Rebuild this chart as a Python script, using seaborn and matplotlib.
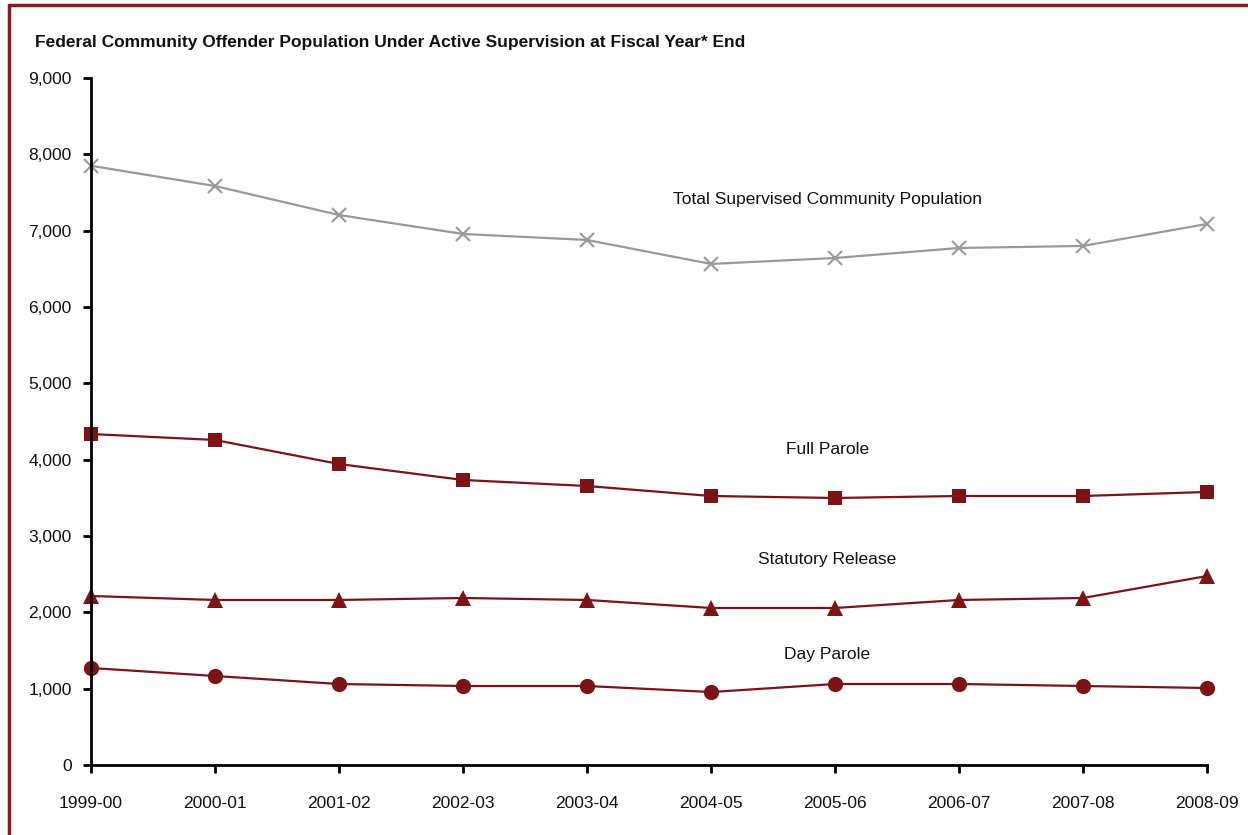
import matplotlib
matplotlib.use("Agg")
import matplotlib.pyplot as plt
from matplotlib.lines import Line2D
import seaborn as sns
import pandas as pd

years = ["1999-00", "2000-01", "2001-02", "2002-03", "2003-04",
         "2004-05", "2005-06", "2006-07", "2007-08", "2008-09"]
total = [7850, 7585, 7205, 6957, 6878, 6564, 6642, 6773, 6800, 7088]
full_parole = [4336, 4258, 3943, 3734, 3655, 3524, 3498, 3524, 3524, 3577]
statutory = [2214, 2162, 2162, 2188, 2162, 2057, 2057, 2162, 2188, 2476]
day_parole = [1271, 1166, 1061, 1035, 1035, 956, 1061, 1061, 1035, 1009]
series_names = ["Total Supervised Community Population", "Full Parole",
                "Statutory Release", "Day Parole"]
title = "Federal Community Offender Population Under Active Supervision at Fiscal Year* End"

sns.set_theme(style="white")
plt.rcParams['font.family'] = ['Liberation Sans', 'DejaVu Sans']

rows = []
for name, vals in zip(series_names, [total, full_parole, statutory, day_parole]):
    for i, (y, v) in enumerate(zip(years, vals)):
        rows.append({"year": y, "idx": i, "value": v, "series": name})
df = pd.DataFrame(rows)

red = "#7B1416"
gray = "#999999"
styles = {
    series_names[0]: dict(color=gray, marker="x", markersize=10, markeredgewidth=1.5,
                          markeredgecolor=gray),
    series_names[1]: dict(color=red, marker="s", markersize=10.5, markeredgewidth=0),
    series_names[2]: dict(color=red, marker="^", markersize=12, markeredgewidth=0),
    series_names[3]: dict(color=red, marker="o", markersize=11, markeredgewidth=0),
}

fig = plt.figure(figsize=(12.48, 8.35), dpi=100)
ax = fig.add_axes([91/1248, 1-765/835, (1207-91)/1248, (765-78)/835])

for name in series_names:
    sub = df[df["series"] == name]
    sns.lineplot(data=sub, x="idx", y="value", linewidth=1.6, ax=ax,
                 legend=False, sort=False, clip_on=False, **styles[name])

ax.set_xlim(0, 9)
ax.set_ylim(0, 9000)
ax.set_xticks(range(len(years)))
ax.set_xticklabels(years)
ax.set_yticks(range(0, 9001, 1000))
ax.set_yticklabels([f"{v:,}" for v in range(0, 9001, 1000)])
ax.set_xlabel("")
ax.set_ylabel("")
for s in ["top", "right"]:
    ax.spines[s].set_visible(False)
for s in ["left", "bottom"]:
    ax.spines[s].set_color("black")
    ax.spines[s].set_linewidth(2)
ax.tick_params(axis="both", direction="out", length=6, width=2, color="black",
               labelsize=12.5, labelcolor="#111111")
ax.tick_params(axis="x", pad=16)
ax.tick_params(axis="y", pad=8)
ax.tick_params(left=True, bottom=True)

label_pos = [(5.94, 7402), (5.94, 4127), (5.94, 2686), (5.94, 1454)]
for name, (lx, ly) in zip(series_names, label_pos):
    ax.text(lx, ly, name, ha="center", va="center", fontsize=12.5, color="#111111")

fig.text(35/1248, 1-42/835, title, ha="left", va="center", fontsize=12.5,
         fontweight="bold", color="#111111")

border = "#8B1A1D"
fig.add_artist(Line2D([9/1248, 1], [1-5/835, 1-5/835], color=border, linewidth=2.5,
                      transform=fig.transFigure))
fig.add_artist(Line2D([9/1248, 9/1248], [0, 1-5/835], color=border, linewidth=2.5,
                      transform=fig.transFigure))

fig.savefig("out.png", dpi=100)
